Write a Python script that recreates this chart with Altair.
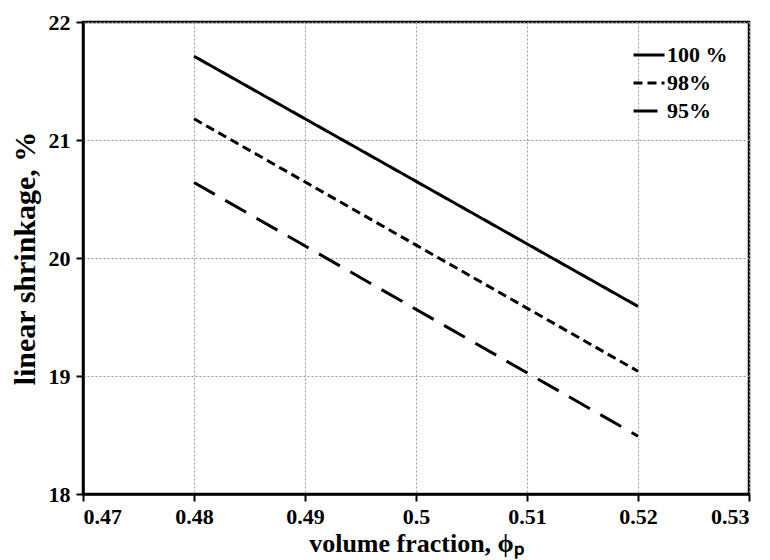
import altair as alt
import pandas as pd

x_vals = [0.48, 0.52]
s100 = [21.71, 19.59]
s98 = [21.18, 19.04]
s95 = [20.64, 18.49]
series = ["100 %", "98%", "95%"]
x_ticks = [0.47, 0.48, 0.49, 0.50, 0.51, 0.52, 0.53]
y_ticks = [18, 19, 20, 21, 22]

rows = []
for name, vals in zip(series, [s100, s98, s95]):
    for xv, yv in zip(x_vals, vals):
        rows.append({"x": xv, "y": yv, "series": name})
df = pd.DataFrame(rows)

FONT = "Liberation Serif"

lines = alt.Chart(df).mark_line(color="black", strokeWidth=3, clip=True).encode(
    x=alt.X("x:Q", scale=alt.Scale(domain=[0.47, 0.53], nice=False, zero=False),
            axis=alt.Axis(values=x_ticks, format=".2~f", title="volume fraction, ϕₚ",
                          titleFontSize=26, titlePadding=3, labelPadding=5)),
    y=alt.Y("y:Q", scale=alt.Scale(domain=[18, 22], nice=False, zero=False),
            axis=alt.Axis(values=y_ticks, title="linear shrinkage, %",
                          titleFontSize=30, titlePadding=8, labelPadding=6)),
    strokeDash=alt.StrokeDash("series:N",
        scale=alt.Scale(domain=series, range=[[1, 0], [9, 5], [24, 12]]),
        legend=alt.Legend(title=None, orient="none", legendX=549, legendY=16,
                          symbolType="stroke", symbolSize=961, symbolStrokeWidth=3,
                          symbolStrokeColor="black", labelFont=FONT, labelFontWeight="bold",
                          labelFontSize=22, labelColor="black", rowPadding=-3,
                          labelOffset=1)),
)

chart = lines.properties(
    width=666, height=472,
    background="white",
    autosize=alt.AutoSizeParams(type="none"),
    padding={"left": 83, "top": 22, "right": 21, "bottom": 66},
).configure_view(
    stroke="black", strokeWidth=2.5
).configure_axis(
    labelFont=FONT, labelFontWeight="bold", labelFontSize=22, labelColor="black",
    titleFont=FONT, titleFontWeight="bold", titleColor="black",
    domainColor="black", domainWidth=2.5, tickColor="black", tickWidth=2, tickSize=7,
    gridColor="#9a9a9a", gridDash=[2, 2], gridWidth=1,
)

chart.save("out.html", embed_options={"renderer": "svg", "actions": False})
